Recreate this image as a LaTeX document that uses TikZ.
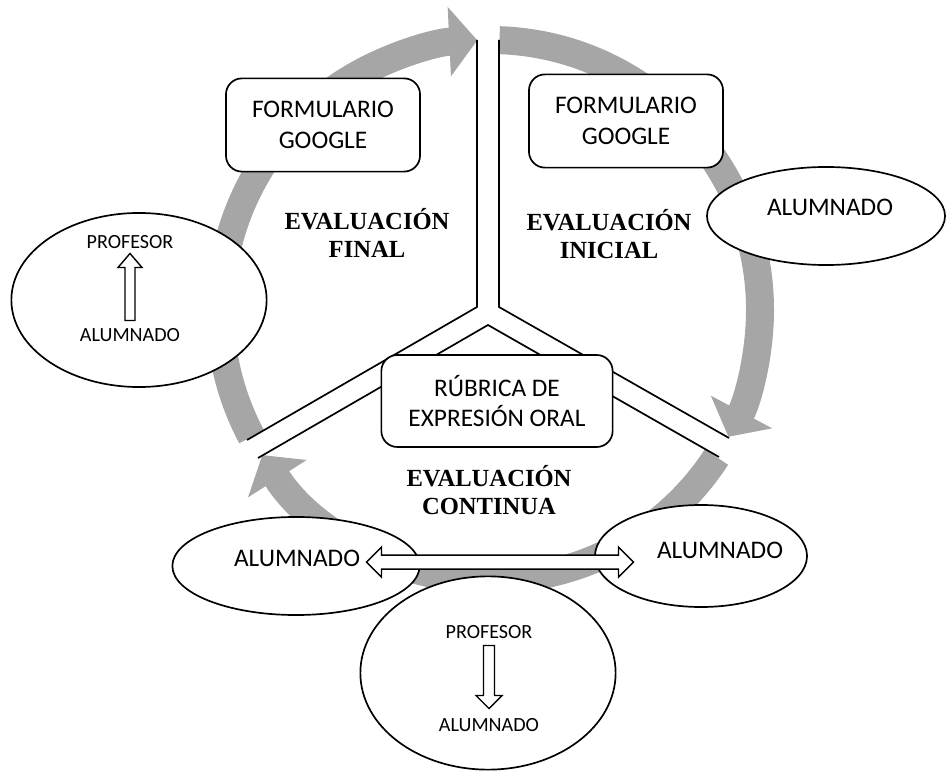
\documentclass[tikz,border=0pt]{standalone}
\usepackage{fontspec}
\setmainfont{Carlito}
\newfontfamily\evalfont{Liberation Serif}
\usetikzlibrary{arrows.meta,shapes.geometric,calc}
\definecolor{cyclegray}{RGB}{166,166,166}

\tikzset{
	cyclearrow/.style={cyclegray, line width=0.7cm, -{Triangle[width=1.7cm,length=0.7cm]}},
	channel/.style={line width=1.2pt},
	gbox/.style={draw, line width=1.2pt, fill=white, rounded corners=0.4cm, align=center,
		minimum width=4.85cm, minimum height=2.33cm, font=\fontsize{18}{22}\selectfont},
	oval/.style={draw, ellipse, line width=1.2pt, fill=white, inner sep=0pt},
	bigtxt/.style={font=\fontsize{18}{22}\selectfont},
	smalltxt/.style={font=\fontsize{14.3}{17}\selectfont},
	evaltxt/.style={align=center, font=\evalfont\bfseries\fontsize{17.5}{19.5}\selectfont},
	hollow/.style={draw, line width=1pt, fill=white}
}

\begin{document}
\begin{tikzpicture}[x=0.025cm, y=0.025cm]

	\useasboundingbox (0,0) rectangle (947,-773);
	\coordinate (ctr) at (490,-310);

	% the cycle
	\draw[cyclearrow] ([shift={(88:270)}]ctr) arc[start angle=88, end angle=-28, radius=270];
	\draw[cyclearrow] ([shift={(-33:270)}]ctr) arc[start angle=-33, end angle=-147.5, radius=270];
	\draw[cyclearrow] ([shift={(208:270)}]ctr) arc[start angle=208, end angle=92.7, radius=270];

	% the three channels
	\coordinate (stemL) at (477,-40);
	\coordinate (forkL) at (477,-307);
	\coordinate (armL) at (247,-440);
	\coordinate (stemR) at (499,-40);
	\coordinate (forkR) at (499,-307);
	\coordinate (armR) at (729,-438);
	\coordinate (apex) at (488,-325);
	\coordinate (lowL) at (258,-458);
	\coordinate (lowR) at (719,-457);
	\draw[channel] (stemL) -- (forkL) -- (armL);
	\draw[channel] (stemR) -- (forkR) -- (armR);
	\draw[channel] (lowL) -- (apex) -- (lowR);

	\node[gbox] (formfin) at (323,-125) {FORMULARIO\\GOOGLE};
	\node[gbox] (formini) at (626,-121) {FORMULARIO\\GOOGLE};
	\node[gbox, minimum width=5.78cm, minimum height=2.3cm] (rubrica) at (497,-401) {RÚBRICA DE\\EXPRESIÓN ORAL};

	\node[evaltxt] (evfin) at (367,-233) {EVALUACIÓN\\FINAL};
	\node[evaltxt] (evini) at (609,-234) {EVALUACIÓN\\INICIAL};
	\node[evaltxt] (evcon) at (489,-490) {EVALUACIÓN\\CONTINUA};

	% inicial
	\node[oval, minimum width=5.95cm, minimum height=2.45cm] (ovini) at (826,-216) {};
	\node[bigtxt] (alini) at (830,-207) {ALUMNADO};

	% final
	\node[oval, minimum width=6.38cm, minimum height=4.35cm] (ovfin) at (139,-300) {};
	\node[smalltxt] (proffin) at (130,-242) {PROFESOR};
	\node[smalltxt] (alfin) at (130,-335) {ALUMNADO};
	\coordinate (upfin) at ($(proffin)!0.5!(alfin)$);
	\draw[hollow, shift={(upfin)}] (0,35) -- (12,21) -- (5,21) -- (5,-32) -- (-5,-32) -- (-5,21) -- (-12,21) -- cycle;

	% continua
	\node[oval, minimum width=6.18cm, minimum height=2.45cm] (ovcl) at (296,-566) {};
	\node[bigtxt] (alcl) at (297,-558) {ALUMNADO};
	\node[oval, minimum width=5.3cm, minimum height=2.55cm] (ovcr) at (701,-556) {};
	\node[bigtxt] (alcr) at (720,-550) {ALUMNADO};
	\node[oval, minimum width=6.38cm, minimum height=4.83cm] (ovcon) at (488,-673) {};
	\node[smalltxt] (profcon) at (489,-632) {PROFESOR};
	\node[smalltxt] (alcon) at (489,-725) {ALUMNADO};
	\coordinate (dncon) at ($(profcon)!0.5!(alcon)$);
	\draw[hollow, shift={(dncon)}] (0,-30) -- (13,-17) -- (5.5,-17) -- (5.5,33) -- (-5.5,33) -- (-5.5,-17) -- (-13,-17) -- cycle;
	\coordinate (twoway) at ($(alcl)!0.48!(alcr)$);
	\draw[hollow, shift={(twoway)}, yshift=-0.2cm] (-133.5,0) -- (-118.5,15) -- (-118.5,7) -- (118.5,7) -- (118.5,15) -- (133.5,0)
		-- (118.5,-15) -- (118.5,-7) -- (-118.5,-7) -- (-118.5,-15) -- cycle;

\end{tikzpicture}
\end{document}
